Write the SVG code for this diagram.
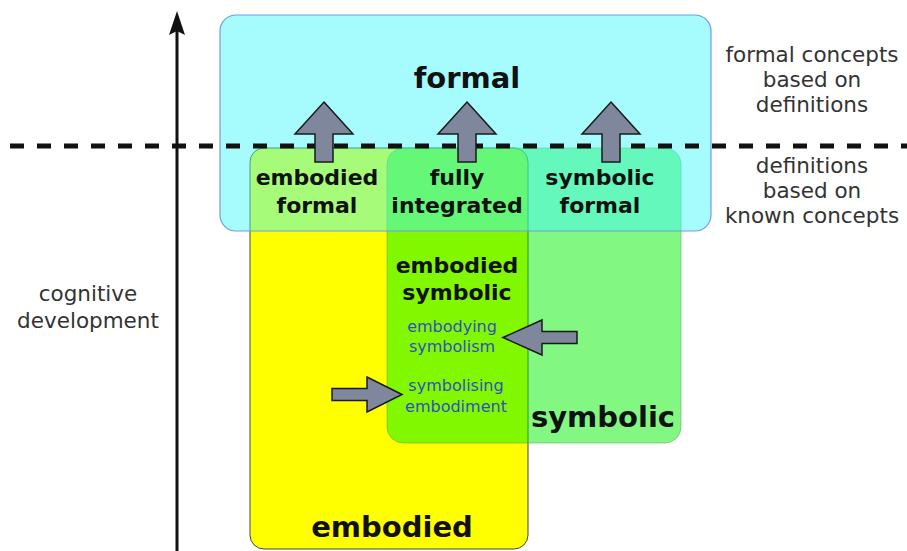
<svg xmlns="http://www.w3.org/2000/svg" width="907" height="551" viewBox="0 0 907 551">
<style>
.big{font-family:"DejaVu Sans",sans-serif;font-weight:bold;font-size:29px;fill:#111;text-anchor:middle}
.mid{font-family:"DejaVu Sans",sans-serif;font-weight:bold;font-size:22px;fill:#111;text-anchor:middle}
.blue{font-family:"DejaVu Sans",sans-serif;font-size:16px;fill:#2f4fc4;text-anchor:middle}
.side{font-family:"DejaVu Sans",sans-serif;font-size:21.5px;fill:#333;text-anchor:middle}
.arr{fill:#7e879b;stroke:#1a1a1a;stroke-width:1.5;stroke-linejoin:miter}
</style>
<rect width="907" height="551" fill="#fff"/>
<g id="embodied">
<rect x="250" y="148" width="278" height="401" rx="14" fill="#ffff00" stroke="#444" stroke-width="1"/>
</g>
<g id="symbolic">
<rect x="387" y="148" width="294" height="295" rx="16" fill="#00f100" fill-opacity="0.49" stroke="#5a9a5a" stroke-opacity="0.5" stroke-width="1"/>
</g>
<g id="formal">
<rect x="220" y="15" width="491" height="216" rx="16" fill="#46f9fa" fill-opacity="0.48" stroke="#6f9ee0" stroke-width="1.2"/>
</g>
<g id="axis">
<line x1="177" y1="551" x2="177" y2="30" stroke="#111" stroke-width="3"/>
<path d="M177,11 L185,35 L177,31 L169,35 Z" fill="#111"/>
</g>
<line id="divider" x1="10" y1="146" x2="907" y2="146" stroke="#111" stroke-width="5" stroke-dasharray="14 13"/>
<g id="connectors">
<path class="arr" d="M324,102 L353,134 L333,134 L333,162 L315,162 L315,134 L295,134 Z"/>
<path class="arr" d="M467,102 L496,134 L476,134 L476,162 L458,162 L458,134 L438,134 Z"/>
<path class="arr" d="M611,102 L640,134 L620,134 L620,162 L602,162 L602,134 L582,134 Z"/>
<path class="arr" d="M503,337.5 L542,320 L542,331.5 L577,331.5 L577,343.5 L542,343.5 L542,355 Z"/>
<path class="arr" d="M402,394.5 L367,377 L367,388.5 L332,388.5 L332,400.5 L367,400.5 L367,412 Z"/>
</g>
<g id="labels">
<text class="big" x="467" y="88">formal</text>
<text class="mid" x="317" y="185">embodied</text>
<text class="mid" x="317" y="213">formal</text>
<text class="mid" x="457" y="185">fully</text>
<text class="mid" x="457" y="213">integrated</text>
<text class="mid" x="600" y="185">symbolic</text>
<text class="mid" x="600" y="213">formal</text>
<text class="mid" x="457" y="273">embodied</text>
<text class="mid" x="457" y="300">symbolic</text>
<text class="blue" x="452" y="332">embodying</text>
<text class="blue" x="452" y="352">symbolism</text>
<text class="blue" x="456" y="391">symbolising</text>
<text class="blue" x="456" y="412">embodiment</text>
<text class="big" x="603" y="427">symbolic</text>
<text class="big" x="392" y="537">embodied</text>
<text class="side" x="88" y="301">cognitive</text>
<text class="side" x="88" y="328">development</text>
<text class="side" x="812" y="62">formal concepts</text>
<text class="side" x="812" y="87">based on</text>
<text class="side" x="812" y="112">definitions</text>
<text class="side" x="812" y="173">definitions</text>
<text class="side" x="812" y="198">based on</text>
<text class="side" x="812" y="223">known concepts</text>
</g>
</svg>
